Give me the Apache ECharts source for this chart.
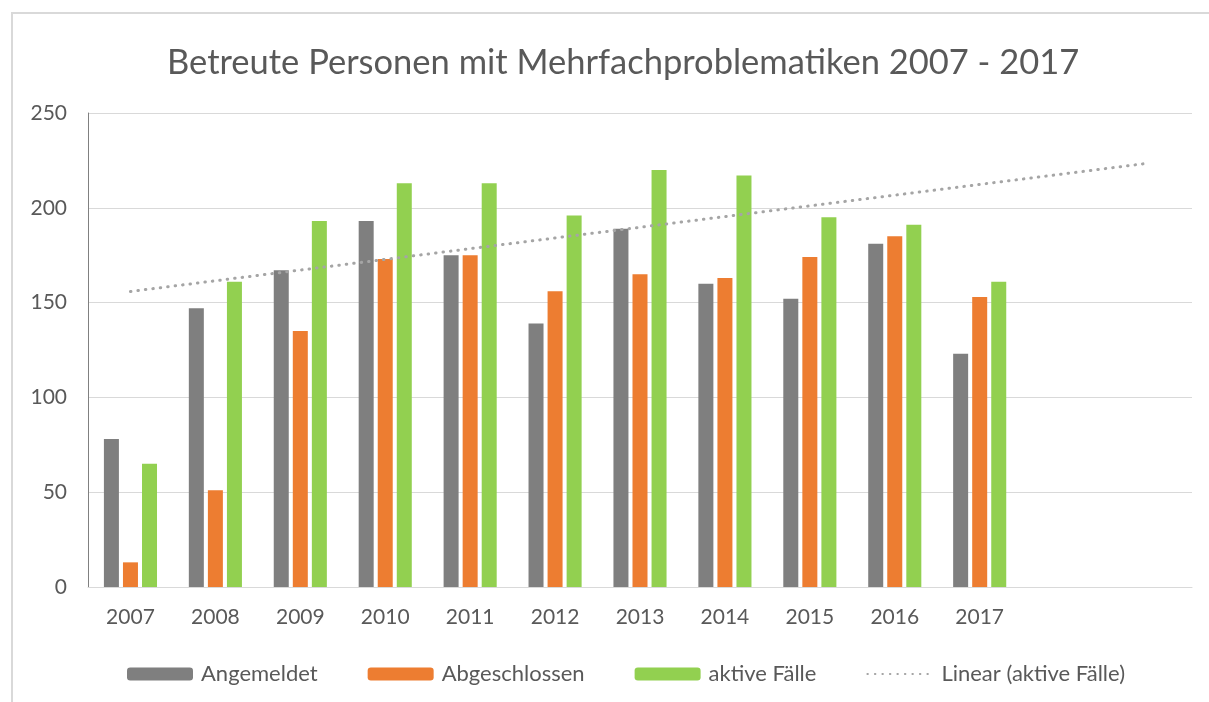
<!DOCTYPE html>
<html>
  <head>
    <meta charset="utf-8" />
    <title>Betreute Personen</title>
    <script src="https://cdn.jsdelivr.net/npm/echarts@6/dist/echarts.min.js"></script>
    <style>
      body { margin: 0; background: #fff; }
      #frame {
        position: absolute; left: 11px; top: 12px; right: -5px; bottom: -5px;
        border: 2px solid #d9d9d9;
      }
      #main { position: absolute; left: 0; top: 0; width: 1209px; height: 702px; }
    </style>
  </head>

  <body>
    <div id="frame"></div>
    <div id="main"></div>
    <script type="text/javascript">
      // values
      var years = ["2007", "2008", "2009", "2010", "2011", "2012", "2013", "2014", "2015", "2016", "2017"];
      var angemeldet = [78, 147, 167, 193, 175, 139, 189, 160, 152, 181, 123];
      var abgeschlossen = [13, 51, 135, 173, 175, 156, 165, 163, 174, 185, 153];
      var aktiveFaelle = [65, 161, 193, 213, 213, 196, 220, 217, 195, 191, 161];
      var forecastPeriods = 2; // Excel trendline extends two periods forward
      var yTicks = { min: 0, max: 250, interval: 50 };

      // linear trendline (least squares) over aktive Fälle
      function linearTrend(values, extra) {
        var n = values.length, sx = 0, sy = 0, sxy = 0, sxx = 0;
        for (var i = 0; i < n; i++) {
          sx += i; sy += values[i]; sxy += i * values[i]; sxx += i * i;
        }
        var slope = (n * sxy - sx * sy) / (n * sxx - sx * sx);
        var icpt = (sy - slope * sx) / n;
        var out = [];
        for (var j = 0; j < n + extra; j++) out.push(+(icpt + slope * j).toFixed(2));
        return out;
      }

      var axisLabels = years.slice();
      for (var k = 0; k < forecastPeriods; k++) axisLabels.push("");

      var txt = "#595959";
      var font = "Lato";
      var myChart = echarts.init(document.getElementById("main"));

      var option = {
        backgroundColor: "transparent",
        textStyle: { fontFamily: font },
        title: {
          text: "Betreute Personen mit Mehrfachproblematiken 2007 - 2017",
          left: 162,
          top: 40,
          textStyle: { fontFamily: font, fontSize: 34.5, fontWeight: "normal", color: txt },
        },
        legend: {
          left: 122,
          top: 658,
          itemWidth: 66,
          itemHeight: 13,
          itemGap: 50,
          textStyle: { fontFamily: font, fontSize: 22, color: txt, padding: [0, 0, 0, 3] },
          data: [
            "Angemeldet",
            "Abgeschlossen",
            "aktive Fälle",
            { name: "Linear (aktive Fälle)", itemStyle: { opacity: 0 } },
          ],
        },
        grid: { left: 88, right: 17, top: 113, bottom: 115 },
        xAxis: {
          type: "category",
          data: axisLabels,
          boundaryGap: true,
          axisLine: { lineStyle: { color: "#d9d9d9", width: 1 } },
          axisTick: { show: false },
          axisLabel: { color: txt, fontSize: 21, fontFamily: font, margin: 20 },
        },
        yAxis: {
          type: "value",
          min: yTicks.min,
          max: yTicks.max,
          interval: yTicks.interval,
          axisLine: { show: true, lineStyle: { color: "#808080", width: 1 } },
          axisTick: { show: false },
          splitLine: { lineStyle: { color: "#d9d9d9", width: 1 } },
          axisLabel: { color: txt, fontSize: 21, fontFamily: font, margin: 21 },
        },
        series: [
          {
            name: "Angemeldet",
            type: "bar",
            data: angemeldet,
            barWidth: 15,
            barGap: "27%",
            itemStyle: { color: "#7f7f7f" },
          },
          {
            name: "Abgeschlossen",
            type: "bar",
            data: abgeschlossen,
            barWidth: 15,
            barGap: "27%",
            itemStyle: { color: "#ed7d31" },
          },
          {
            name: "aktive Fälle",
            type: "bar",
            data: aktiveFaelle,
            barWidth: 15,
            barGap: "27%",
            itemStyle: { color: "#92d050" },
          },
          {
            name: "Linear (aktive Fälle)",
            type: "line",
            data: linearTrend(aktiveFaelle, forecastPeriods),
            symbol: "none",
            z: 5,
            itemStyle: { color: "#a5a5a5" },
            lineStyle: { color: "#a5a5a5", width: 3, type: [0.5, 7], cap: "round" },
          },
        ],
      };

      myChart.setOption(option);
    </script>
  </body>
</html>
